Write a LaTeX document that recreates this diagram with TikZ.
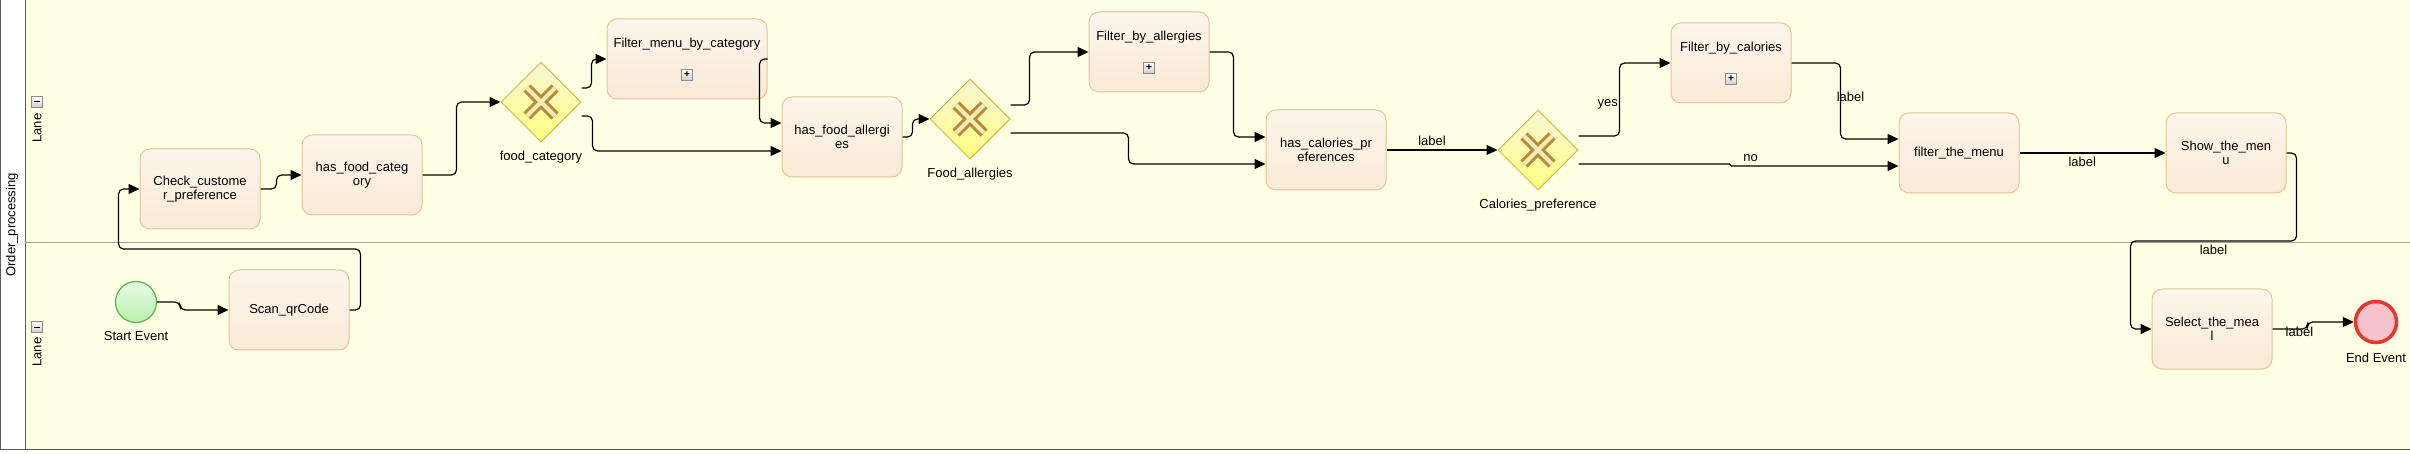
\documentclass[tikz,border=0pt]{standalone}
\usepackage{fontspec}
\setmainfont{Liberation Sans}
\usepackage{tikz}
\usetikzlibrary{shapes.geometric}
\usetikzlibrary{arrows.meta}
\definecolor{lanebg}{RGB}{255,255,228}
\definecolor{poolline}{RGB}{90,90,90}
\definecolor{laneline}{RGB}{160,160,160}
\definecolor{tasktop}{RGB}{252,245,236}
\definecolor{taskbot}{RGB}{251,234,214}
\definecolor{taskline}{RGB}{226,197,152}
\definecolor{gwtop}{RGB}{249,246,212}
\definecolor{gwbot}{RGB}{255,255,128}
\definecolor{gwline}{RGB}{214,182,76}
\definecolor{xline}{RGB}{184,138,58}
\definecolor{xfill}{RGB}{246,236,182}
\definecolor{starttop}{RGB}{234,252,230}
\definecolor{startbot}{RGB}{181,240,170}
\definecolor{startline}{RGB}{88,178,80}
\definecolor{endfill}{RGB}{244,195,203}
\definecolor{endline}{RGB}{233,54,42}
\definecolor{togline}{RGB}{140,140,140}
\definecolor{toggray}{RGB}{205,205,205}
\tikzstyle{task}=[rectangle,rounded corners=10pt,draw=taskline,line width=1pt,top color=tasktop,bottom color=taskbot,minimum width=120pt,minimum height=80pt,inner sep=2pt,align=center]
\tikzstyle{subtask}=[task,text depth=32pt]
\tikzstyle{gateway}=[diamond,draw=gwline,line width=1pt,top color=gwtop,bottom color=gwbot,minimum width=80pt,minimum height=80pt,inner sep=0pt]
\tikzstyle{startev}=[circle,draw=startline,line width=1.2pt,top color=starttop,bottom color=startbot,minimum size=41pt,inner sep=0pt]
\tikzstyle{endev}=[circle,draw=endline,line width=3.5pt,fill=endfill,minimum size=41pt,inner sep=0pt]
\tikzstyle{flow}=[-{Triangle[length=11pt,width=10pt]},line width=1.2pt,rounded corners=5pt]
\tikzstyle{togglebox}=[rectangle,draw=togline,line width=0.8pt,top color=white,bottom color=toggray,minimum size=11pt,inner sep=0pt,font=\fontsize{10}{10}\selectfont\bfseries]
\tikzstyle{xbar}=[line width=10pt,draw=xline]
\tikzstyle{xbarin}=[line width=4pt,draw=xfill]

\begin{document}
\begin{tikzpicture}[x=1pt,y=-1pt,font=\fontsize{13}{14.5}\selectfont]
      \useasboundingbox (0,0) rectangle (2410,454);
      \fill[white] (0,0) rectangle (2410,454);
      \fill[lanebg] (25,0) rectangle (2410,449);
      \draw[poolline,line width=1pt] (0.5,-2) -- (0.5,449) -- (2412,449);
      \draw[poolline,line width=1pt] (25,-2) -- (25,449);
      \draw[laneline,line width=1pt] (25,243) -- (2412,243);

      \node[rotate=90] at (12,225) (pool) {Order\_processing};
      \node[rotate=90] at (37,128) (lanetop) {Lane};
      \node[togglebox] at (37,102) (lanetopbtn) {\rule{6pt}{1pt}};
      \node[rotate=90] at (37,352) (lanebot) {Lane};
      \node[togglebox] at (37,327) (lanebotbtn) {\rule{6pt}{1pt}};

      \node[startev,label={[label distance=5pt]below:Start Event}] at (136,302) (start) {};
      \node[task] at (289,310) (scan) {Scan\_qrCode};
      \node[task] at (200,189) (check) {Check\_custome\\r\_preference};
      \node[task] at (362,175) (hfc) {has\_food\_categ\\ory};
      \node[gateway,label={[label distance=5pt]below:food\_category}] at (541,102) (gwcat) {};
      \node[subtask,minimum width=160pt] at (687,59) (fmc) {Filter\_menu\_by\_category};
      \node[togglebox] at ([yshift=-16pt]fmc.center) (fmcbtn) {+};
      \node[task] at (842,137) (hfa) {has\_food\_allergi\\es};
      \node[gateway,label={[label distance=5pt]below:Food\_allergies}] at (970,119) (gwall) {};
      \node[subtask] at (1149,52) (fba) {Filter\_by\_allergies};
      \node[togglebox] at ([yshift=-16pt]fba.center) (fbabtn) {+};
      \node[task] at (1326,150) (hcp) {has\_calories\_pr\\eferences};
      \node[gateway,label={[label distance=5pt]below:Calories\_preference}] at (1538,150) (gwcal) {};
      \node[subtask] at (1731,63) (fbc) {Filter\_by\_calories};
      \node[togglebox] at ([yshift=-16pt]fbc.center) (fbcbtn) {+};
      \node[task] at (1959,153) (ftm) {filter\_the\_menu};
      \node[task] at (2226,153) (stm) {Show\_the\_men\\u};
      \node[task] at (2212,329) (stl) {Select\_the\_mea\\l};
      \node[endev,label={[label distance=5pt]below:End Event}] at (2376,322) (endevent) {};

      \foreach \g in {gwcat,gwall,gwcal} {
        \draw[xbar] ([shift={(-14,-14)}]\g.center) -- ([shift={(14,14)}]\g.center)
                    ([shift={(-14,14)}]\g.center) -- ([shift={(14,-14)}]\g.center);
        \draw[xbarin] ([shift={(-14,-14)}]\g.center) -- ([shift={(14,14)}]\g.center)
                      ([shift={(-14,14)}]\g.center) -- ([shift={(14,-14)}]\g.center);
      }

      \draw[flow] (start.east) -- ++(23,0) |- (scan.west);
      \draw[flow] (scan.east) -- ++(11,0) -- ++(0,-61) -| ([xshift=-21pt]check.west) -- (check.west);
      \draw[flow] (check.east) -- ++(16,0) |- (hfc.west);
      \draw[flow] (hfc.east) -- ++(34,0) |- (gwcat.west);
      \draw[flow] ([yshift=14pt]gwcat.east) -- ++(10,0) |- (fmc.west);
      \draw[flow] ([yshift=-14pt]gwcat.east) -- ++(11,0) |- ([yshift=-14pt]hfa.west);
      \draw[flow] (fmc.east) -- ++(-8,0) |- ([yshift=14pt]hfa.west);
      \draw[flow] (hfa.east) -- ++(10,0) |- (gwall.west);
      \draw[flow] ([yshift=14pt]gwall.east) -- ++(19,0) |- (fba.west);
      \draw[flow] ([yshift=-14pt]gwall.east) -- ++(118,0) |- ([yshift=-14pt]hcp.west);
      \draw[flow] (fba.east) -- ++(24,0) |- ([yshift=13pt]hcp.west);
      \draw[flow] (hcp.east) -- node[above,pos=0.41] (lblcal) {label} (gwcal.west);
      \draw[flow] ([yshift=14pt]gwcal.east) -- ++(41,0) |- node[left,pos=0.22,inner sep=1pt] (lblyes) {yes} (fbc.west);
      \draw[flow,rounded corners=1pt] ([yshift=-14pt]gwcal.east) -- ++(152,0) |- node[above,pos=0.56] (lblno) {no} ([yshift=-13pt]ftm.west);
      \draw[flow] (fbc.east) -- ++(49,0) |- node[pos=0.225,xshift=10pt] (lblfbc) {label} ([yshift=14pt]ftm.west);
      \draw[flow] (ftm.east) -- node[below,pos=0.43] (lblftm) {label} (stm.west);
      \draw[flow] (stm.east) -- ++(10,0) -- ++(0,88) -| node[below,pos=0.25] (lblstm) {label} ([xshift=-21pt]stl.west) -- (stl.west);
      \draw[flow] (stl.east) -- node[pos=0.77,yshift=-3pt] (lblstl) {label} ++(35,0) |- (endevent.west);
    \end{tikzpicture}
\end{document}
